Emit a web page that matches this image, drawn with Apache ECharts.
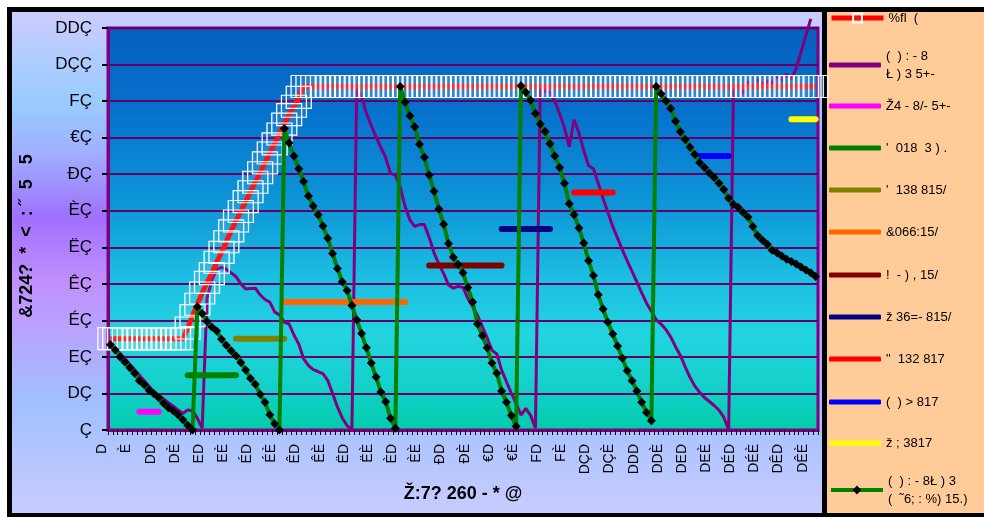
<!DOCTYPE html>
<html><head><meta charset="utf-8">
<script src="https://cdn.jsdelivr.net/npm/echarts@6/dist/echarts.min.js"></script>
<style>html,body{margin:0;padding:0;background:#fff}#c{width:984px;height:517px}</style>
</head><body><div id="c"></div>
<script>
// Glyphs used by the (mis-encoded) tick-label font for digits 0..9
const digitGlyphs = ['Ç','D','E','É','Ê','Ë','È','Đ','€','F'];
const categoryCount = 147;
const categories = Array.from({length: categoryCount}, (_, i) =>
  String(i + 1).split('').map(d => digitGlyphs[+d]).join(''));
const yTickLabels = ['Ç','DÇ','EÇ','ÉÇ','ÊÇ','ËÇ','ÈÇ','ĐÇ','€Ç','FÇ','DÇÇ','DDÇ'];

const xTitle = 'Ž:7? 260 - * @';
const yTitle = '&724?  *  <  : ˝  5   5';

const seriesNames = [
  '%fl  (',
  '(  ) : - 8\nŁ ) 3 5+-',
  'Ž4 - 8/- 5+-',
  "'  018  3 ) .",
  "'  138 815/",
  '&066:15/',
  '!  - ) , 15/',
  'ž 36=- 815/',
  '"  132 817',
  '(  ) > 817',
  'ž ; 3817',
  '(  ) : - 8Ł ) 3\n(  ˜6; : %) 15.)'
];

// series 1: red line with white box markers
const redTarget = [
  25,25,25,25,25,25,25,25,25,25,25,25,25,25,25,25,
  27.9,31.3,34.4,37.5,40.4,42.8,45.9,48.6,51.5,54.5,57.2,59.8,62.5,65.2,67.8,70.4,73.1,75.8,78.3,81,83.7,86.3,88.6,91,94,
  94,94,94,94,94,94,94,94,94,94,94,94,94,94,94,94,94,94,94,94,94,94,94,94,94,94,94,94,94,94,
  94,94,94,94,94,94,94,94,94,94,94,94,94,94,94,94,94,94,94,94,94,94,94,94,94,94,94,94,94,94,
  94,94,94,94,94,94,94,94,94,94,94,94,94,94,94,94,94,94,94,94,94,94,94,94,94,94,94,94,94,94,
  94,94,94,94,94,94,94,94,94,94,94,94,94,94,94,94
];

// series 2: purple line
const purpleActual = [
  23,22,21,19.5,18,16.5,15,13.5,12,10.5,9.5,8.5,7.5,6.5,5.5,4.5,5.5,5.3,3.2,0.5,
  36,41,44,44.5,44,43,42,40,38.6,38.7,38.8,37,35.7,35,32.3,31.5,29.5,29,26,23.5,19.5,17.6,16.5,16,15.4,13.6,10,6.3,3.3,1.2,0,
  94,91,86.7,83.3,80.2,77.3,74.5,70.2,69.7,66.5,61.2,57.5,55.7,56.2,56.2,52.7,48.5,45.4,42.8,39.7,38.8,39.3,39,36,33.8,31.4,28.3,25.2,21.8,20.8,16.4,13.2,10.1,7.3,4.1,5.9,4,0.5,
  94,92.7,92.4,90,86.6,82.7,77.5,84.9,81.3,76.5,72.3,71.5,67.5,63.3,59.6,55.7,52.5,49.3,46.3,43.4,40.5,37.5,34.7,32.5,30.2,29,27.5,25.5,22.8,20.4,17.3,14.4,12,10.3,8.9,7.8,6.7,5.4,3.5,0,
  93.7,94.5,92,95.4,93.5,96,94.5,95.5,95,96.8,95.5,97.3,96,99,103.5,108,112.5,null
];

// series 12: green line with black diamonds
const greenDiamond = [
  23.3,21.9,20,18.6,17,15.5,13.5,12.4,10.9,9.9,8.8,7.3,6.1,5.3,4.2,2.8,1.3,0,
  33.7,31.9,29.7,28.2,27.1,24.8,23.2,21.7,20.3,18.5,16.4,14.1,12.5,9.8,7.6,4.2,1.7,0,
  82.5,78.5,75,71.5,68,64,61.3,58.9,55.8,52.5,48.3,44.2,40.6,38.2,34.1,30.2,26.4,22.5,18.3,14.5,10.4,7.7,3.2,0.5,
  94,89.7,86,83,78.2,74.6,69.8,65.3,60.5,56.3,51,47.3,45.3,43,39,35,29,25.8,22.5,18.3,15.5,10.7,7.6,4,1,
  94.2,92.4,90.2,86.6,83.7,81.7,78.3,75,71.8,67.5,61.9,58.9,55.3,51.2,46.3,42.3,37,33.1,29.5,26.3,23,19.6,16.2,13.5,10.7,7.6,4.8,2.5,
  94,92,90,88,84.5,81.6,79.5,77.4,75.4,73.1,71.8,70.3,69.1,67.5,65.8,63.4,61.8,60.9,59.5,58.3,55.7,53.2,51.9,50.8,49.2,48.5,47.6,46.7,46.1,45.4,44.6,43.8,43,42
];

// short horizontal levels: [first category, last category, value]
const magentaLevel = [7, 11, 5];
const greenLevel   = [17, 27, 15];
const oliveLevel   = [27, 37, 25];
const orangeLevel  = [37, 62, 35];
const maroonLevel  = [67, 82, 45];
const navyLevel    = [82, 92, 55];
const redLevel     = [97, 105, 65];
const blueLevel    = [123, 129, 75];
const yellowLevel  = [142, 147, 85];

const levelSeries = [
  [seriesNames[2], '#FF00FF', magentaLevel],
  [seriesNames[3], '#008000', greenLevel],
  [seriesNames[4], '#808000', oliveLevel],
  [seriesNames[5], '#FF6600', orangeLevel],
  [seriesNames[6], '#800000', maroonLevel],
  [seriesNames[7], '#000080', navyLevel],
  [seriesNames[8], '#FF0000', redLevel],
  [seriesNames[9], '#0000FF', blueLevel],
  [seriesNames[10], '#FFFF00', yellowLevel]
].map(([name, color, lv]) => ({
  name, type: 'line', symbol: 'none', z: 2,
  data: [[lv[0] - 1, lv[2]], [lv[1] - 1, lv[2]]],
  lineStyle: {color, width: 6, cap: 'round'},
  itemStyle: {color}
}));

const FONT = '"Liberation Sans", Arial, sans-serif';
const legendTops = [10, 41, 98, 140, 182, 224, 267, 309, 351, 394, 435, 466];
const markerItems = {0: 5, 11: 4};   // legend items that show line + marker (line width)
const legends = seriesNames.map((n, i) => {
  const two = n.indexOf('\n') >= 0;
  const withMarker = markerItems[i] !== undefined;
  return {
    data: [withMarker ? n : {name: n, icon: 'roundRect'}],
    orient: 'vertical', left: 829, top: legendTops[i], padding: 0,
    itemWidth: 52, itemHeight: withMarker ? 11 : 5, itemGap: 0, selectedMode: false,
    lineStyle: withMarker ? {width: markerItems[i]} : undefined,
    textStyle: two
      ? {fontSize: 13, fontFamily: FONT, color: '#000', lineHeight: 18, padding: [12, 0, 0, 0]}
      : {fontSize: 13, fontFamily: FONT, color: '#000', lineHeight: 16}
  };
});

const chart = echarts.init(document.getElementById('c'));
chart.setOption({
  animation: false,
  backgroundColor: '#ffffff',
  graphic: [
    {type: 'rect', z: -10, silent: true, shape: {x: 7, y: 7, width: 990, height: 520}, style: {fill: '#000'}},
    {type: 'rect', z: -9, silent: true, shape: {x: 12, y: 12, width: 810, height: 501},
      style: {fill: new echarts.graphic.LinearGradient(0, 0, 0, 1, [
        {offset: 0, color: '#CCCCFF'},
        {offset: 0.18, color: '#99CCFF'},
        {offset: 0.28, color: '#A0B0FF'},
        {offset: 0.41, color: '#A070FF'},
        {offset: 0.54, color: '#C090FF'},
        {offset: 0.64, color: '#B8A4FF'},
        {offset: 0.78, color: '#A0C0FF'},
        {offset: 1, color: '#C8CCFF'}
      ])}},
    {type: 'rect', z: -9, silent: true, shape: {x: 827, y: 12, width: 160, height: 501}, style: {fill: '#FFCC99'}},
    {type: 'text', z: 5, x: 27, y: 236, rotation: Math.PI / 2,
      style: {text: yTitle, font: 'bold 18px ' + FONT, fill: '#000', align: 'center', verticalAlign: 'middle'}},
    {type: 'text', z: 5, x: 463, y: 494,
      style: {text: xTitle, font: 'bold 18px ' + FONT, fill: '#000', align: 'center', verticalAlign: 'middle'}}
  ],
  legend: legends,
  grid: {
    left: 108, top: 28, width: 710, height: 402, show: true,
    borderColor: '#800080', borderWidth: 3,
    backgroundColor: new echarts.graphic.LinearGradient(0, 0, 0, 1, [
      {offset: 0, color: '#0560BE'},
      {offset: 0.2, color: '#0670CC'},
      {offset: 0.45, color: '#0E98D8'},
      {offset: 0.62, color: '#1CBEE2'},
      {offset: 0.76, color: '#22D4E0'},
      {offset: 0.9, color: '#12D0C8'},
      {offset: 1, color: '#00CCAA'}
    ])
  },
  xAxis: {
    type: 'category', data: categories, boundaryGap: true,
    axisLine: {show: true, lineStyle: {color: '#800080', width: 3}},
    axisTick: {show: true, interval: 0, length: 5, lineStyle: {color: '#000', width: 1}},
    axisLabel: {interval: 4, rotate: 90, fontSize: 14, fontFamily: FONT, color: '#000',
      margin: 14, verticalAlign: 'bottom', lineHeight: 16},
    splitLine: {show: false}
  },
  yAxis: {
    type: 'value', min: 0, max: 110, interval: 10,
    axisLine: {show: true, lineStyle: {color: '#800080', width: 3}},
    axisTick: {show: true, length: 6, lineStyle: {color: '#000', width: 2}},
    axisLabel: {formatter: v => yTickLabels[Math.round(v / 10)], fontSize: 17, fontFamily: FONT,
      color: '#000', margin: 16, padding: [0, 0, 6, 0]},
    splitLine: {show: true, lineStyle: {color: '#660066', width: 2}}
  },
  series: [
    {name: seriesNames[0], type: 'line', data: redTarget, z: 3,
      symbol: 'rect', symbolSize: [25, 22], showAllSymbol: true,
      lineStyle: {color: '#FF0000', width: 5},
      itemStyle: {color: 'rgba(255,255,255,0.04)', borderColor: '#FFFFFF', borderWidth: 1.2}},
    {name: seriesNames[1], type: 'line', data: purpleActual, z: 2, clip: false,
      symbol: 'none', lineStyle: {color: '#800080', width: 3}, itemStyle: {color: '#800080'}},
    ...levelSeries,
    {name: seriesNames[11], type: 'line', data: greenDiamond, z: 4,
      symbol: 'diamond', symbolSize: 9, showAllSymbol: true,
      lineStyle: {color: '#008000', width: 4}, itemStyle: {color: '#000000'}}
  ]
});
</script></body></html>
